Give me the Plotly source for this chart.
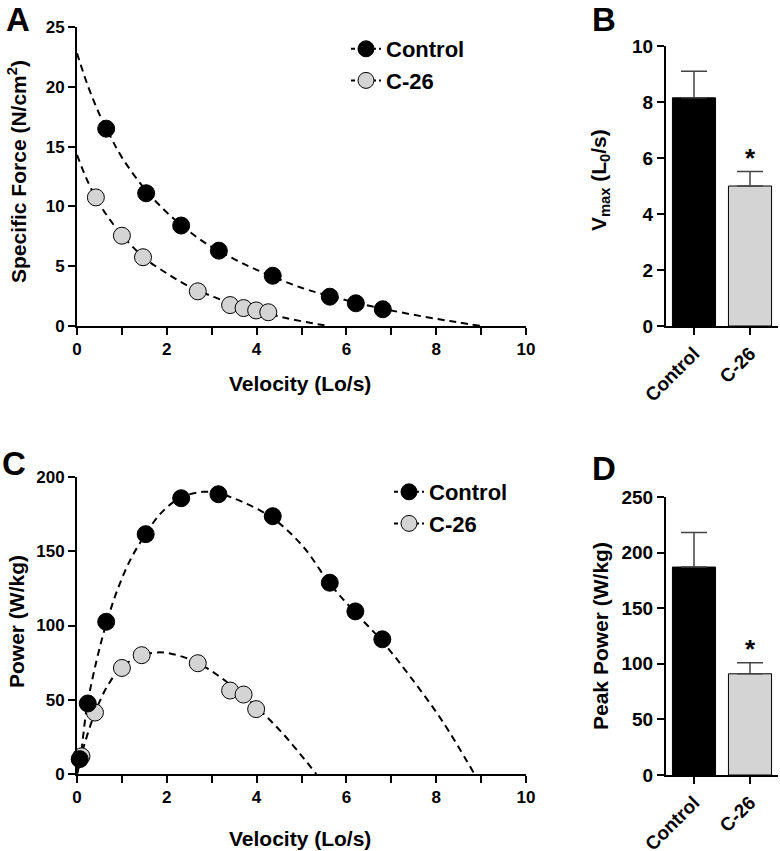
import plotly.graph_objects as go

# The page body margin is removed by a post script, so the figure fills the window.
OX, OY = 0, 0
W, H = 780 - OX, 851 - OY
FONT = "Liberation Sans, Arial, Helvetica, sans-serif"

# ---------------- data ----------------
# Panel A: force-velocity
vel_ctrl = [0.65, 1.54, 2.32, 3.16, 4.36, 5.63, 6.21, 6.81]
force_ctrl = [16.5, 11.1, 8.4, 6.3, 4.2, 2.45, 1.9, 1.4]
vel_c26 = [0.42, 1.0, 1.47, 2.69, 3.41, 3.71, 3.99, 4.26]
force_c26 = [10.75, 7.55, 5.75, 2.9, 1.75, 1.5, 1.3, 1.15]

# fitted curves
fitv_ctrl = [0, 0.25, 0.5, 0.75, 1.0, 1.5, 2.0, 2.5, 3.0, 3.5, 4.0, 5.0, 6.0, 7.0, 8.0, 8.5, 9.0]
fitf_ctrl = [22.8, 20.0, 17.7, 15.8, 14.1, 11.5, 9.5, 7.9, 6.6, 5.6, 4.7, 3.2, 2.15, 1.3, 0.6, 0.3, 0.0]
fitv_c26 = [0, 0.25, 0.5, 0.75, 1.0, 1.5, 2.0, 2.5, 3.0, 3.5, 4.0, 4.5, 5.0, 5.6]
fitf_c26 = [14.3, 12.0, 10.2, 8.8, 7.6, 5.7, 4.4, 3.3, 2.5, 1.8, 1.3, 0.8, 0.4, 0.0]

# Panel C: power-velocity
pvel_ctrl = [0.06, 0.24, 0.65, 1.53, 2.32, 3.15, 4.36, 5.63, 6.2, 6.8]
power_ctrl = [10.0, 47.5, 102.5, 161.5, 185.7, 188.4, 173.6, 128.8, 109.5, 90.7]
pvel_c26 = [0.1, 0.4, 1.0, 1.44, 2.69, 3.41, 3.71, 3.99]
power_c26 = [11.9, 41.4, 71.4, 80.0, 74.6, 56.2, 53.5, 43.7]

pfitv_ctrl = [0, 0.07, 0.22, 0.44, 0.65, 0.9, 1.2, 1.52, 1.85, 2.3, 2.81, 3.15, 3.7, 4.37, 5.04, 5.61, 6.17, 6.78, 7.41, 8.15, 8.85]
pfitp_ctrl = [0, 9.5, 45, 77, 101, 124, 145, 161, 175, 186, 190, 189, 183, 172, 153, 129, 109.5, 90, 66, 35, 0]
pfitv_c26 = [0, 0.15, 0.41, 0.67, 0.99, 1.41, 1.81, 2.22, 2.67, 3.11, 3.5, 4.0, 4.59, 5.33]
pfitp_c26 = [0, 18.4, 42, 58.8, 71.8, 79.5, 81.9, 80.1, 75, 67, 58, 45, 27, 0]

# Panels B and D: bars
groups = ["Control", "C-26"]
vmax_mean = [8.15, 5.0]
vmax_err = [0.95, 0.52]
peak_mean = [187, 91]
peak_err = [31, 10]

ctrl_color = "black"
c26_color = "#d4d4d4"

# ---------------- layout helpers (window pixel -> paper fraction) ----------------
def px(x):
    return (x - OX) / W

def py(y):
    return 1 - (y - OY) / H

def xd(a, b):
    return [px(a), px(b)]

def yd(top, bottom):
    return [py(bottom), py(top)]

tickfont = dict(family=FONT, size=17, color="black", weight="bold")
tickfont_bar = dict(family=FONT, size=19, color="black", weight="bold")
axis_common = dict(showline=True, linewidth=2, linecolor="black", ticks="outside",
                   ticklen=7, tickwidth=2, tickcolor="black", showgrid=False,
                   zeroline=False, automargin=False)

fig = go.Figure()

dash = "7px,5px"
mk = 17


def fit_line(x, y, xa, ya):
    return go.Scatter(x=x, y=y, mode="lines",
                      line=dict(color="black", width=2, dash=dash, shape="spline"),
                      showlegend=False, xaxis=xa, yaxis=ya, hoverinfo="skip", cliponaxis=False)


def points(x, y, color, xa, ya):
    return go.Scatter(x=x, y=y, mode="markers",
                      marker=dict(size=mk, color=color, line=dict(color="black", width=1)),
                      showlegend=False, xaxis=xa, yaxis=ya, cliponaxis=False)


def legend_item(name, color, xa, ya, leg, grp):
    return go.Scatter(x=[None], y=[None], mode="lines+markers", name=name,
                      line=dict(color="black", width=2, dash="4px,3px"),
                      marker=dict(size=mk, color=color, line=dict(color="black", width=1)),
                      xaxis=xa, yaxis=ya, legend=leg, legendgroup=grp)


# Panel A
fig.add_trace(fit_line(fitv_ctrl, fitf_ctrl, "x", "y"))
fig.add_trace(fit_line(fitv_c26, fitf_c26, "x", "y"))
fig.add_trace(points(vel_ctrl, force_ctrl, ctrl_color, "x", "y"))
fig.add_trace(points(vel_c26, force_c26, c26_color, "x", "y"))
fig.add_trace(legend_item("Control", ctrl_color, "x", "y", "legend", "a1"))
fig.add_trace(legend_item("C-26", c26_color, "x", "y", "legend", "a2"))

# Panel C
fig.add_trace(fit_line(pfitv_ctrl, pfitp_ctrl, "x3", "y3"))
fig.add_trace(fit_line(pfitv_c26, pfitp_c26, "x3", "y3"))
fig.add_trace(points(pvel_c26, power_c26, c26_color, "x3", "y3"))
fig.add_trace(points(pvel_ctrl, power_ctrl, ctrl_color, "x3", "y3"))
fig.add_trace(legend_item("Control", ctrl_color, "x3", "y3", "legend2", "c1"))
fig.add_trace(legend_item("C-26", c26_color, "x3", "y3", "legend2", "c2"))


def bars(vals, errs, xa, ya):
    return go.Bar(x=groups, y=vals, width=0.77,
                  marker=dict(color=[ctrl_color, c26_color], line=dict(color="black", width=1)),
                  error_y=dict(type="data", symmetric=False, array=errs, arrayminus=[0, 0],
                               color="#444444", thickness=1.5, width=13),
                  showlegend=False, xaxis=xa, yaxis=ya)


fig.add_trace(bars(vmax_mean, vmax_err, "x2", "y2"))
fig.add_trace(bars(peak_mean, peak_err, "x4", "y4"))

legend_common = dict(font=dict(family=FONT, size=22, color="black", weight="bold"),
                     bgcolor="rgba(0,0,0,0)", xanchor="left", yanchor="top",
                     traceorder="grouped", itemwidth=30)

minor_ticks = dict(dtick=1, ticks="outside", ticklen=7, tickwidth=2, tickcolor="black")

fig.update_layout(
    width=W, height=H, margin=dict(l=0, r=0, t=0, b=0, pad=0, autoexpand=False),
    paper_bgcolor="white", plot_bgcolor="white",
    font=dict(family=FONT, color="black"),
    xaxis=dict(domain=xd(77, 526), range=[0, 10], dtick=2, tickfont=tickfont,
               minor=minor_ticks, anchor="y", **axis_common),
    yaxis=dict(domain=yd(27, 326), range=[0, 25], dtick=5, tickfont=tickfont, anchor="x", **axis_common),
    xaxis2=dict(domain=xd(666, 778), range=[-0.5, 1.5], type="category", tickangle=-45,
                tickfont=tickfont_bar, anchor="y2", **axis_common),
    yaxis2=dict(domain=yd(46, 326), range=[0, 10], dtick=2, tickfont=tickfont_bar, anchor="x2", **axis_common),
    xaxis3=dict(domain=xd(77, 526), range=[0, 10], dtick=2, tickfont=tickfont,
                minor=minor_ticks, anchor="y3", **axis_common),
    yaxis3=dict(domain=yd(477, 774), range=[0, 200], dtick=50, tickfont=tickfont, anchor="x3", **axis_common),
    xaxis4=dict(domain=xd(666, 778), range=[-0.5, 1.5], type="category", tickangle=-45,
                tickfont=tickfont_bar, anchor="y4", **axis_common),
    yaxis4=dict(domain=yd(497, 775), range=[0, 250], dtick=50, tickfont=tickfont_bar, anchor="x4", **axis_common),
    legend=dict(x=px(346), y=py(28), tracegroupgap=0, **legend_common),
    legend2=dict(x=px(389), y=py(471), tracegroupgap=0, **legend_common),
)

title_font = dict(family=FONT, size=21, color="black", weight="bold")
annos = [
    dict(text="Specific Force (N/cm<sup>2</sup>)", x=px(17), y=py(172), textangle=-90),
    dict(text="Velocity (Lo/s)", x=px(300), y=py(383)),
    dict(text="V<sub>max</sub> (L<sub>0</sub>/s)", x=px(600), y=py(180), textangle=-90),
    dict(text="Power (W/kg)", x=px(16), y=py(622), textangle=-90),
    dict(text="Velocity (Lo/s)", x=px(300), y=py(838)),
    dict(text="Peak Power (W/kg)", x=px(600), y=py(636), textangle=-90),
]
for a in annos:
    fig.add_annotation(xref="paper", yref="paper", showarrow=False, font=title_font,
                       xanchor="center", yanchor="middle", **a)

letter_font = dict(family=FONT, size=33, color="black", weight="bold")
for txt, lx, ly in [("A", 18, 20), ("B", 604, 20), ("C", 14, 464), ("D", 604, 468)]:
    fig.add_annotation(text=txt, xref="paper", yref="paper", x=px(lx), y=py(ly),
                       showarrow=False, font=letter_font, xanchor="center", yanchor="middle")

star_font = dict(family=FONT, size=26, color="black", weight="bold")
fig.add_annotation(text="*", x="C-26", y=vmax_mean[1] + vmax_err[1], xref="x2", yref="y2",
                   showarrow=False, font=star_font, yanchor="bottom", yshift=-4)
fig.add_annotation(text="*", x="C-26", y=peak_mean[1] + peak_err[1], xref="x4", yref="y4",
                   showarrow=False, font=star_font, yanchor="bottom", yshift=-3)

fig.write_html("out.html", config={"displayModeBar": False},
               post_script="document.body.style.margin='0';document.body.style.overflow='hidden';")
